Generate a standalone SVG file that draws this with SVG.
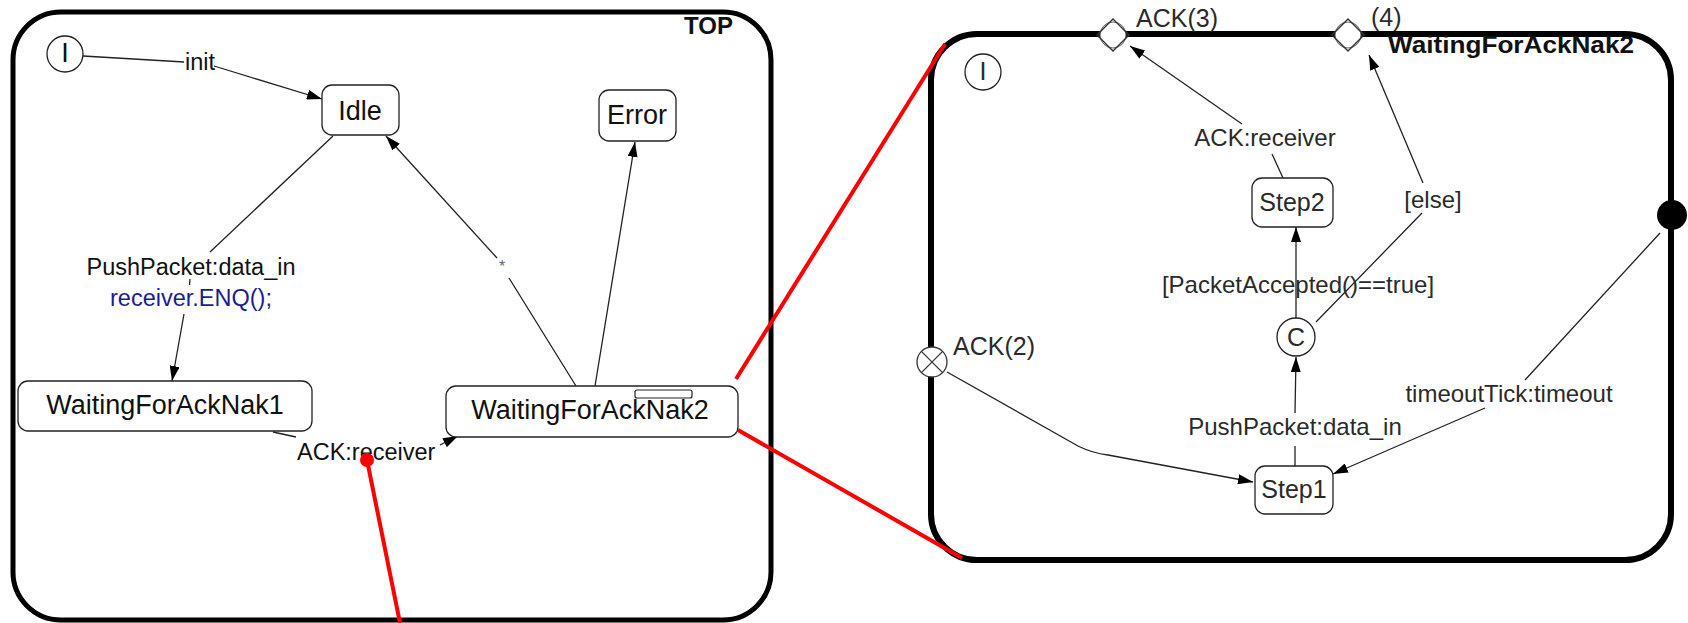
<svg xmlns="http://www.w3.org/2000/svg" width="1688" height="623" viewBox="0 0 1688 623">
<style>
.frame{fill:none;stroke:#000;}
.st{fill:#fff;stroke:#222;stroke-width:1.3;}
.sn{font-family:"Liberation Sans",Arial,sans-serif;font-size:27px;fill:#111;text-anchor:middle;}
.sr{font-family:"Liberation Sans",Arial,sans-serif;font-size:25px;fill:#2a2a2a;text-anchor:middle;}
.pl{font-family:"Liberation Sans",Arial,sans-serif;font-size:25px;fill:#2a2a2a;text-anchor:start;}
.lb{font-family:"Liberation Sans",Arial,sans-serif;font-size:23.5px;fill:#111;}
.lbc{font-family:"Liberation Sans",Arial,sans-serif;font-size:23.5px;fill:#111;text-anchor:middle;}
.blue{fill:#1c1c94;}
.lr{font-family:"Liberation Sans",Arial,sans-serif;font-size:24px;fill:#2a2a2a;text-anchor:middle;}
.ttl{font-family:"Liberation Sans",Arial,sans-serif;font-weight:bold;fill:#111;}
.cn{fill:none;stroke:#222;stroke-width:1.3;}
.red{fill:none;stroke:#ff0000;stroke-width:4;}
</style>
<defs>
<marker id="arr" viewBox="0 0 15 10" refX="15" refY="5" markerWidth="15" markerHeight="10" orient="auto" markerUnits="userSpaceOnUse"><path d="M0,0 L15,5 L0,10 z" fill="#000"/></marker>
</defs>
<rect width="1688" height="623" fill="#fff"/>

<g id="TOP">
<rect class="frame" x="13" y="12" width="758" height="608" rx="48" stroke-width="5"/>
<text class="ttl" x="733" y="34" font-size="24" text-anchor="end">TOP</text>
</g>

<g id="WaitingForAckNak2-sub">
<rect class="frame" x="931" y="34" width="740" height="526" rx="46" stroke-width="6"/>
<text class="ttl" x="1388" y="53" font-size="23" textLength="246" lengthAdjust="spacingAndGlyphs">WaitingForAckNak2</text>
</g>

<g id="connectors">
<path class="cn" d="M83,56 L184,62 M214,66 L322,99" marker-end="url(#arr)"/>
<path class="cn" d="M333,136 L210,252 M190,279 L189.5,285 M184,314 L172,381" marker-end="url(#arr)"/>
<path class="cn" d="M273,432 L296,437 M440,445 L458,436" marker-end="url(#arr)"/>
<path class="cn" d="M576,386 L509,278 M497,258 L386,136" marker-end="url(#arr)"/>
<path class="cn" d="M595,386 L635,142" marker-end="url(#arr)"/>
<path class="cn" d="M1283,178 L1272,154 M1242,124 L1130,46" marker-end="url(#arr)"/>
<path class="cn" d="M1316,322 L1422,213 M1423,183 L1369,55" marker-end="url(#arr)"/>
<path class="cn" d="M1296,318 L1296,227" marker-end="url(#arr)"/>
<path class="cn" d="M1295,466 L1295,446 M1295,413 L1296,357" marker-end="url(#arr)"/>
<path class="cn" d="M947,372 L1078,446 Q1092,453 1108,455 L1253,482" marker-end="url(#arr)"/>
<path class="cn" d="M1660,233 L1525,380 M1485,408 L1333,474" marker-end="url(#arr)"/>
<text class="lb" x="185" y="70">init</text>
<text class="lbc" x="191" y="275">PushPacket:data_in</text>
<text class="lbc blue" x="191" y="306">receiver.ENQ();</text>
<text class="lb" x="297" y="460">ACK:receiver</text>
<text x="502" y="272" font-family="Liberation Sans,Arial,sans-serif" font-size="16" fill="#666" text-anchor="middle">*</text>
<text class="lr" x="1265" y="146">ACK:receiver</text>
<text class="lr" x="1433" y="208">[else]</text>
<text class="lr" x="1298" y="293">[PacketAccepted()==true]</text>
<text class="lr" x="1295" y="435">PushPacket:data_in</text>
<text class="lr" x="1509" y="402">timeoutTick:timeout</text>
</g>

<g id="init-top">
<circle class="st" cx="65" cy="54" r="18"/>
<text class="sn" x="65" y="62" font-size="22">I</text>
</g>
<g id="Idle">
<rect class="st" x="322" y="85" width="77" height="50" rx="10"/>
<text class="sn" x="360" y="120">Idle</text>
</g>
<g id="Error">
<rect class="st" x="599" y="90" width="77" height="51" rx="10"/>
<text class="sn" x="637" y="124">Error</text>
</g>
<g id="WaitingForAckNak1">
<rect class="st" x="18" y="381" width="294" height="50" rx="10"/>
<text class="sn" x="165" y="414">WaitingForAckNak1</text>
</g>
<g id="WaitingForAckNak2">
<rect class="st" x="446" y="386" width="292" height="51" rx="10"/>
<text class="sn" x="590" y="419">WaitingForAckNak2</text>
<rect x="635" y="390" width="57" height="8" rx="2" fill="none" stroke="#222" stroke-width="1.2"/>
</g>

<g id="init-sub">
<circle class="st" cx="983" cy="72" r="18"/>
<text class="sr" x="983" y="80">I</text>
</g>
<g id="ACK3">
<circle cx="1113" cy="35" r="13" fill="#fff" stroke="#666" stroke-width="1"/>
<polygon points="1113,19 1129,35 1113,51 1097,35" fill="none" stroke="#333" stroke-width="1.4"/>
<text class="pl" x="1136" y="27">ACK(3)</text>
</g>
<g id="exit4">
<circle cx="1348" cy="35" r="13" fill="#fff" stroke="#666" stroke-width="1"/>
<polygon points="1348,19 1364,35 1348,51 1332,35" fill="none" stroke="#333" stroke-width="1.4"/>
<text class="pl" x="1371" y="26">(4)</text>
</g>
<g id="ACK2">
<circle cx="932" cy="362" r="15" fill="#fff" stroke="#333" stroke-width="1.3"/>
<path d="M921.4,351.4 L942.6,372.6 M942.6,351.4 L921.4,372.6" stroke="#333" stroke-width="1.3"/>
<text class="pl" x="953" y="355">ACK(2)</text>
</g>
<g id="timeoutPort">
<circle cx="1672" cy="215" r="15" fill="#000"/>
</g>
<g id="Step2">
<rect class="st" x="1252" y="178" width="81" height="49" rx="10"/>
<text class="sr" x="1292" y="211">Step2</text>
</g>
<g id="C">
<circle class="st" cx="1296" cy="337" r="19"/>
<text class="sr" x="1296" y="346">C</text>
</g>
<g id="Step1">
<rect class="st" x="1255" y="466" width="78" height="48" rx="10"/>
<text class="sr" x="1294" y="498">Step1</text>
</g>

<g id="zoom-lines">
<path class="red" d="M736,379 L945,44"/>
<path class="red" d="M738,430 L962,558"/>
<path class="red" d="M367,460 L400,623"/>
<circle cx="367" cy="460" r="7" fill="#ff0000"/>
</g>
</svg>
